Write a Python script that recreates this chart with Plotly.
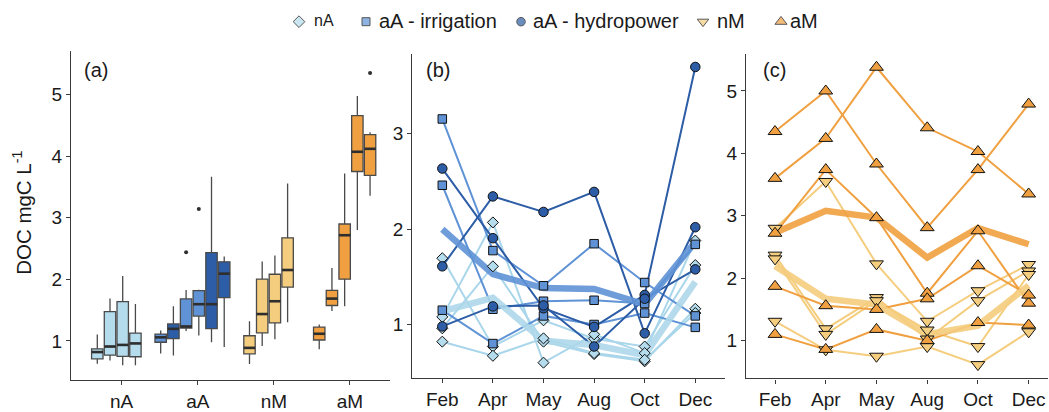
import numpy as np
import plotly.graph_objects as go

W, H = 1049, 412

# ---------------- data ----------------
months = ["Feb", "Apr", "May", "Aug", "Oct", "Dec"]
groups = ["nA", "aA", "nM", "aM"]

# panel (a): one box per site, sites ordered by median inside each group
box_group = ["nA"] * 4 + ["aA"] * 6 + ["nM"] * 4 + ["aM"] * 5
box_kind = (["nA"] * 4 + ["irr", "hyd", "irr", "irr", "hyd", "hyd"]
            + ["nM"] * 4 + ["aM"] * 5)
box_lo = [0.63, 0.685, 0.605, 0.605,
          0.797, 0.765, 1.16, 1.09, 0.98, 0.904,
          0.627, 0.92, 1.027, 1.304,
          0.867, 1.485, 1.565, 2.803, 3.357]
box_q1 = [0.71, 0.77, 0.75, 0.744,
          0.979, 1.037, 1.21, 1.405, 1.2, 1.704,
          0.792, 1.133, 1.293, 1.875,
          1.016, 1.576, 2.003, 3.752, 3.688]
box_med = [0.82, 0.91, 0.936, 0.96,
           1.059, 1.197, 1.235, 1.597, 1.597, 2.093,
           0.888, 1.437, 1.645, 2.152,
           1.117, 1.688, 2.717, 4.072, 4.12]
box_q3 = [0.872, 1.475, 1.64, 1.128,
          1.112, 1.277, 1.683, 1.816, 2.435, 2.285,
          1.085, 2.003, 2.083, 2.675,
          1.224, 1.821, 2.899, 4.659, 4.349]
box_hi = [1.107, 1.69, 2.056, 1.60,
          1.171, 1.565, 1.827, 1.83, 3.667, 2.37,
          1.32, 2.29, 2.387, 3.555,
          1.267, 2.184, 3.72, 4.979, 4.387]
box_out = [[], [], [], [],
           [], [], [2.44], [3.144], [], [],
           [], [], [], [],
           [], [], [], [], [5.352]]

# panel (b): DOC per site and month
nA_sites = [
    [1.695, 0.77, 1.044, 0.85, 0.769, 1.623],
    [1.08, 2.07, 0.60, 0.897, 0.70, 1.88],
    [0.96, 1.61, 0.82, 0.69, 0.614, 1.165],
    [0.82, 0.672, 0.855, 0.70, 0.63, 1.12],
]
irr_sites = [
    [3.155, 1.775, 1.406, 1.847, 1.44, 1.09],
    [2.46, 1.16, 1.244, 1.254, 1.22, 1.84],
    [1.15, 0.80, 1.09, 1.00, 1.12, 0.97],
]
hyd_sites = [
    [2.635, 1.905, 1.17, 0.975, 1.31, 3.70],
    [1.61, 2.343, 2.18, 2.39, 0.907, 2.02],
    [0.98, 1.19, 1.20, 0.769, 1.27, 1.578],
]
# panel (c)
nM_sites = [
    [2.8, 3.55, 2.23, 1.31, 1.8, 2.22],
    [2.37, 1.19, 1.69, 1.026, 1.64, 2.116],
    [2.31, 1.10, 1.64, 1.17, 0.905, 2.06],
    [1.31, 0.853, 0.75, 0.905, 0.616, 1.142],
]
aM_sites = [
    [4.35, 5.0, 3.83, 2.81, 3.74, 4.79],
    [3.6, 4.24, 5.38, 4.41, 4.03, 3.35],
    [2.72, 3.74, 2.97, 1.76, 2.76, 1.6],
    [1.87, 1.56, 1.5, 1.67, 2.2, 1.73],
    [1.1, 0.86, 1.18, 1.0, 1.29, 1.25],
]

# ---------------- style ----------------
fill = {"nA": "#B4DCEC", "irr": "#5F93D6", "hyd": "#2C5DA6",
        "nM": "#F5CD7E", "aM": "#F0A040"}
FONT = "Liberation Sans, Arial, sans-serif"
INK = "#1a1a1a"
AXC = "#3a3a3a"

fig = go.Figure()

# ---------------- panel (a) boxes ----------------
BW = 0.15
STEP = 0.167
SHIFT = -0.07
positions = []
for gi, g in enumerate(groups):
    idx = [i for i, bg in enumerate(box_group) if bg == g]
    n = len(idx)
    for j, i in enumerate(idx):
        positions.append((i, gi + 1 + (j - (n - 1) / 2) * STEP + SHIFT))
positions = [p for _, p in sorted(positions)]

for i, pos in enumerate(positions):
    fig.add_trace(go.Box(
        x=[pos], q1=[box_q1[i]], median=[box_med[i]], q3=[box_q3[i]],
        lowerfence=[box_lo[i]], upperfence=[box_hi[i]],
        width=BW, whiskerwidth=0, boxpoints=False,
        fillcolor=fill[box_kind[i]], line=dict(color="#4a4a4a", width=1.3),
        xaxis="x", yaxis="y", showlegend=False, hoverinfo="skip"))
    fig.add_trace(go.Scatter(
        x=[pos - BW / 2, pos + BW / 2], y=[box_med[i], box_med[i]],
        mode="lines", line=dict(color="#2e2e2e", width=2.6),
        xaxis="x", yaxis="y", showlegend=False, hoverinfo="skip"))
    if box_out[i]:
        fig.add_trace(go.Scatter(
            x=[pos] * len(box_out[i]), y=box_out[i], mode="markers",
            marker=dict(color="#2e2e2e", size=4),
            xaxis="x", yaxis="y", showlegend=False, hoverinfo="skip"))

# ---------------- panels (b) and (c) lines ----------------
mx = list(range(1, 7))


def site_lines(sites, color, width, ax):
    for s in sites:
        fig.add_trace(go.Scatter(
            x=mx, y=s, mode="lines", line=dict(color=color, width=width),
            xaxis="x" + ax, yaxis="y" + ax, showlegend=False, hoverinfo="skip"))


def mean_line(sites, color, ax):
    fig.add_trace(go.Scatter(
        x=mx, y=np.mean(np.array(sites), axis=0), mode="lines",
        line=dict(color=color, width=6.5), opacity=0.9,
        xaxis="x" + ax, yaxis="y" + ax, showlegend=False, hoverinfo="skip"))


def site_points(sites, color, symbol, size, ax):
    for s in sites:
        fig.add_trace(go.Scatter(
            x=mx, y=s, mode="markers",
            marker=dict(symbol=symbol, size=size, color=color,
                        line=dict(color="#111111", width=1)),
            xaxis="x" + ax, yaxis="y" + ax, showlegend=False, hoverinfo="skip"))


site_lines(nA_sites, "#A9D6EA", 2, "2")
site_lines(irr_sites, "#5F93D6", 2, "2")
site_lines(hyd_sites, "#2C5DA6", 2, "2")
mean_line(nA_sites, "#ADD8EA", "2")
mean_line(irr_sites + hyd_sites, "#5F93D6", "2")
site_points(nA_sites, fill["nA"], "diamond", 8.5, "2")
site_points(irr_sites, fill["irr"], "square", 8.5, "2")
site_points(hyd_sites, fill["hyd"], "circle", 9.5, "2")

site_lines(nM_sites, "#F5CD7E", 2, "3")
site_lines(aM_sites, "#F0A040", 2, "3")
mean_line(aM_sites, "#F0A040", "3")
mean_line(nM_sites, "#F5CD7E", "3")
site_points(nM_sites, fill["nM"], "triangle-down", 12, "3")
site_points(aM_sites, fill["aM"], "triangle-up", 12, "3")

# ---------------- legend row (drawn on a pixel overlay axis) ----------------
leg_sym = ["diamond", "square", "circle", "triangle-down", "triangle-up"]
leg_fill = [fill["nA"], fill["irr"], fill["hyd"], fill["nM"], fill["aM"]]
leg_size = [9, 8, 8.5, 10, 10.5]
leg_x = [299, 366, 521, 703, 781]
leg_text = ["nA", "aA - irrigation", "aA - hydropower", "nM", "aM"]
leg_tx = [312, 377, 531, 715, 788]
leg_fs = [16, 20, 20, 20, 20]
LY = 21
fig.add_trace(go.Scatter(
    x=leg_x, y=[LY + 1] * 5, mode="markers",
    marker=dict(symbol=leg_sym, size=leg_size, color=leg_fill,
                line=dict(color="#111111", width=1)),
    xaxis="x4", yaxis="y4", showlegend=False, hoverinfo="skip"))

annotations = []
for t, x, fs in zip(leg_text, leg_tx, leg_fs):
    annotations.append(dict(x=x / W, y=1 - LY / H, xref="paper", yref="paper",
                            text=t, showarrow=False, xanchor="left", yanchor="middle",
                            font=dict(family=FONT, size=fs, color=INK)))

for lab, px in zip(["(a)", "(b)", "(c)"], [82, 424, 761]):
    annotations.append(dict(x=px / W, y=1 - 71 / H, xref="paper", yref="paper",
                            text=lab, showarrow=False, xanchor="left", yanchor="middle",
                            font=dict(family=FONT, size=20, color=INK)))

annotations.append(dict(x=22 / W, y=1 - 216 / H, xref="paper", yref="paper",
                        text="DOC mgC L<sup>-1</sup>", textangle=-90, showarrow=False,
                        xanchor="center", yanchor="middle",
                        font=dict(family=FONT, size=20.5, color=INK)))


def ax_style(**kw):
    d = dict(showline=True, linecolor=AXC, linewidth=1.3, ticks="outside",
             ticklen=4, tickcolor=AXC, tickwidth=1, showgrid=False, zeroline=False,
             mirror=False, tickfont=dict(family=FONT, size=19, color=INK),
             fixedrange=True)
    d.update(kw)
    return d


def dx(a, b):
    return [a / W, b / W]


def dy(bot, top):
    return [1 - bot / H, 1 - top / H]


fig.update_layout(
    width=W, height=H, margin=dict(l=0, r=0, t=0, b=0),
    paper_bgcolor="white", plot_bgcolor="rgba(0,0,0,0)",
    showlegend=False, boxmode="overlay",
    font=dict(family=FONT, color=INK),
    xaxis=ax_style(domain=dx(71, 390), range=[0.334, 4.526], anchor="y",
                   tickvals=[1, 2, 3, 4], ticktext=groups),
    yaxis=ax_style(domain=dy(385.7, 51.7), range=[0.365, 5.709], anchor="x",
                   tickvals=[1, 2, 3, 4, 5]),
    xaxis2=ax_style(domain=dx(412.3, 725), range=[0.407, 6.587], anchor="y2",
                    tickvals=mx, ticktext=months),
    yaxis2=ax_style(domain=dy(383.3, 55), range=[0.442, 3.834], anchor="x2",
                    tickvals=[1, 2, 3]),
    xaxis3=ax_style(domain=dx(746, 1048.3), range=[0.428, 6.387], anchor="y3",
                    tickvals=mx, ticktext=months),
    yaxis3=ax_style(domain=dy(384, 55), range=[0.395, 5.589], anchor="x3",
                    tickvals=[1, 2, 3, 4, 5]),
    xaxis4=dict(domain=[0, 1], range=[0, W], visible=False, anchor="y4",
                fixedrange=True),
    yaxis4=dict(domain=[0, 1], range=[H, 0], visible=False, anchor="x4",
                fixedrange=True),
    annotations=annotations,
)

fig.write_html("out.html")
